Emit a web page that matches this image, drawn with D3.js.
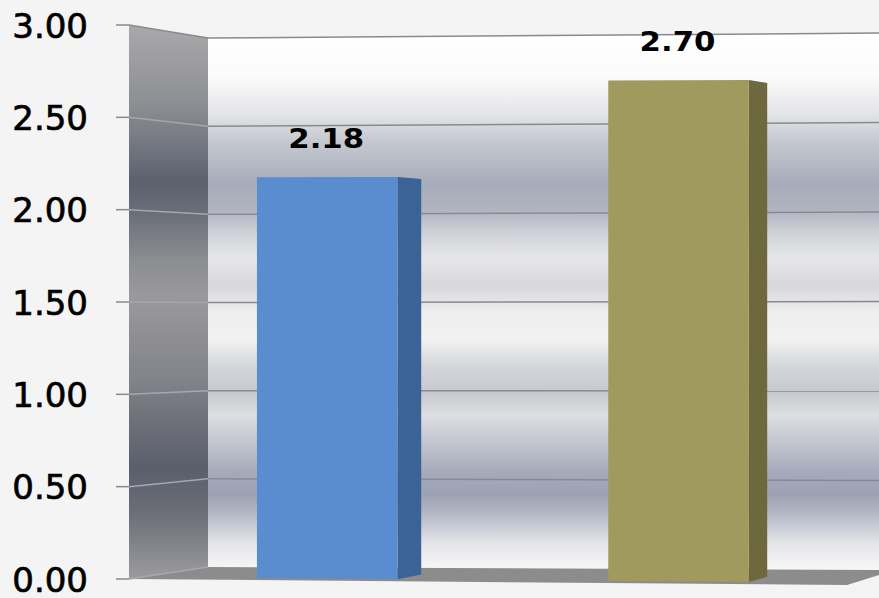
<!DOCTYPE html>
<html>
<head>
<meta charset="utf-8">
<script src="https://cdn.jsdelivr.net/npm/d3@7/dist/d3.min.js"></script>
<style>
  html, body { margin: 0; padding: 0; background: #f4f4f4; }
  svg { display: block; }
</style>
</head>
<body>
<svg id="chart" width="879" height="598"></svg>
<script>
// Chart data
const categories = ["A", "B"];
const values = [2.18, 2.70];
const valueLabels = ["2.18", "2.70"];
const tickValues = [0, 0.5, 1, 1.5, 2, 2.5, 3];
const tickLabels = ["0.00", "0.50", "1.00", "1.50", "2.00", "2.50", "3.00"];
const frontColors = ["#5a8dcf", "#a19a5e"];
const sideColors = ["#3c6396", "#6d683e"];

const svg = d3.select("#chart");

// Scales: category position across the box, value height
const u = d3.scaleBand().domain(categories).range([0.015, 1.0]).paddingInner(0.6).paddingOuter(0.3);
const v = d3.scaleLinear().domain([0, 3]).range([0, 1]);

// Screen corners of the front and back planes of the 3-D box
const FRONT = { x0: 129, x1: 847, yb0: 579, yb1: 585, yt0: 25, yt1: 22 };
const BACK  = { x0: 208, x1: 895, yb0: 567, yb1: 570, yt0: 38, yt1: 33 };

function onPlane(p, uu, vv) {
  const x = p.x0 + (p.x1 - p.x0) * uu;
  const yb = p.yb0 + (p.yb1 - p.yb0) * uu;
  const yt = p.yt0 + (p.yt1 - p.yt0) * uu;
  return [x, yb + (yt - yb) * v(vv)];
}
// (category fraction, value, depth 0=front..1=back) -> screen point
function project(uu, vv, d) {
  const a = onPlane(FRONT, uu, vv), b = onPlane(BACK, uu, vv);
  return [a[0] + (b[0] - a[0]) * d, a[1] + (b[1] - a[1]) * d];
}
const poly = pts => "M" + pts.map(p => p.join(",")).join("L") + "Z";

const defs = svg.append("defs");

// Brushed-metal gradient of the back wall
const backGrad = defs.append("linearGradient").attr("id", "backWall")
  .attr("gradientUnits", "userSpaceOnUse").attr("x1", 0).attr("y1", 33).attr("x2", 0).attr("y2", 570);
[[0, "#ffffff"], [0.08, "#fbfbfb"], [0.15, "#e4e5e8"], [0.2, "#c6c9d1"], [0.28, "#a7acba"],
 [0.33, "#b0b4c0"], [0.38, "#d4d6dc"], [0.42, "#e6e6e8"], [0.47, "#d7d8dc"], [0.52, "#eeeeef"],
 [0.57, "#f2f2f2"], [0.62, "#d4d6da"], [0.67, "#c7c9d0"], [0.71, "#dedfe2"], [0.76, "#c4c7d0"],
 [0.82, "#a4aabb"], [0.86, "#9ca2b4"], [0.9, "#b8bcc8"], [0.95, "#e4e5e8"], [1, "#f7f7f7"]]
  .forEach(([o, c]) => backGrad.append("stop").attr("offset", o).attr("stop-color", c));

// Darker gradient of the side wall
const sideGrad = defs.append("linearGradient").attr("id", "sideWall")
  .attr("gradientUnits", "userSpaceOnUse").attr("x1", 0).attr("y1", 25).attr("x2", 0).attr("y2", 579);
[[0, "#a9a9ab"], [0.14, "#8e8f93"], [0.22, "#727680"], [0.28, "#5d616d"], [0.34, "#6a6e78"],
 [0.42, "#8a8c90"], [0.49, "#9a9a9c"], [0.56, "#8f8f92"], [0.64, "#82848a"], [0.71, "#6e7179"],
 [0.8, "#5b5f6b"], [0.88, "#6b6e77"], [1, "#9c9c9e"]]
  .forEach(([o, c]) => sideGrad.append("stop").attr("offset", o).attr("stop-color", c));

// Walls and floor
svg.append("path").attr("d", poly([project(0, 0, 1), project(0, 3, 1), project(1, 3, 1), project(1, 0, 1)]))
  .attr("fill", "url(#backWall)");
svg.append("path").attr("d", poly([project(0, 0, 0), project(0, 3, 0), project(0, 3, 1), project(0, 0, 1)]))
  .attr("fill", "url(#sideWall)");
svg.append("path").attr("d", poly([project(0, 0, 0), project(1, 0, 0), project(1, 0, 1), project(0, 0, 1)]))
  .attr("fill", "#8c8c8c");

// Gridlines across the side and back walls, with ticks on the front edge
const grid = svg.append("g");
tickValues.forEach(t => {
  const f = project(0, t, 0), b = project(0, t, 1), r = project(1, t, 1);
  grid.append("line").attr("x1", f[0]).attr("y1", f[1]).attr("x2", b[0]).attr("y2", b[1])
    .attr("stroke", t === 3 ? "#8a8a8a" : "#a3a7b3").attr("stroke-width", 1.5);
  if (t > 0) {
    grid.append("line").attr("x1", b[0]).attr("y1", b[1]).attr("x2", r[0]).attr("y2", r[1])
      .attr("stroke", "#8a8a8e").attr("stroke-width", 1.5);
  }
  grid.append("line").attr("x1", f[0] - 13).attr("y1", f[1]).attr("x2", f[0]).attr("y2", f[1])
    .attr("stroke", "#8a8a8a").attr("stroke-width", 1.5);
});

// Axis labels
svg.append("g").selectAll("text").data(tickValues).join("text")
  .attr("x", 88)
  .attr("y", t => project(0, t, 0)[1] + 12.5)
  .attr("text-anchor", "end")
  .attr("font-family", "DejaVu Sans")
  .attr("font-size", 34)
  .attr("fill", "#000").attr("stroke", "#000").attr("stroke-width", 0.7)
  .text((t, i) => tickLabels[i]);

// Bars: front face near the front, side face receding to mid-depth
const D0 = 0.15, D1 = 0.5;
const bars = svg.append("g");
categories.forEach((c, i) => {
  const u0 = u(c), u1 = u(c) + u.bandwidth(), val = values[i];
  bars.append("path")
    .attr("d", poly([project(u1, 0, D0), project(u1, val, D0), project(u1, val, D1), project(u1, 0, D1)]))
    .attr("fill", sideColors[i]);
  bars.append("path")
    .attr("d", poly([project(u0, 0, D0), project(u0, val, D0), project(u1, val, D0), project(u1, 0, D0)]))
    .attr("fill", frontColors[i]);
  const top = project((u0 + u1) / 2, val, D0);
  svg.append("text")
    .attr("x", top[0] - 1).attr("y", top[1] - 29)
    .attr("text-anchor", "middle")
    .attr("font-family", "DejaVu Sans").attr("font-weight", "bold")
    .attr("font-size", 26)
    .attr("textLength", 76).attr("lengthAdjust", "spacingAndGlyphs")
    .attr("fill", "#000")
    .text(valueLabels[i]);
});
</script>
</body>
</html>
